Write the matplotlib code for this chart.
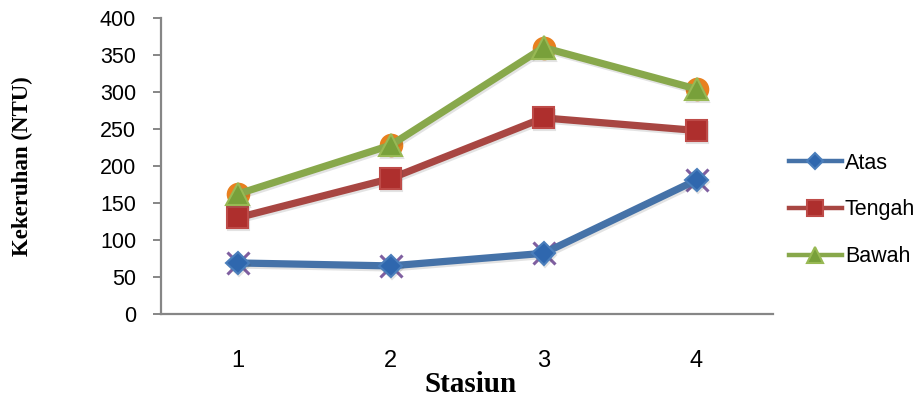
"""
Grafik kekeruhan (NTU) per stasiun untuk tiga kedalaman: atas, tengah, bawah
"""

import numpy as np
import matplotlib
matplotlib.use('Agg')
import matplotlib.pyplot as plt
import matplotlib.patheffects as pe

# --- data ---
stasiun = [1, 2, 3, 4]
atas = [69, 65, 82, 181]
tengah = [130, 183, 265, 248]
bawah = [162, 228, 360, 304]

y_ticks = [0, 50, 100, 150, 200, 250, 300, 350, 400]

# --- gaya ---
WARNA = {
    'Atas':   ('#4572A8', '#2F67AE', '#4A7EBB'),
    'Tengah': ('#A84642', '#AE2F2D', '#BE4B48'),
    'Bawah':  ('#88A84B', '#78A03A', '#98B954'),
}
SANS = ['Liberation Sans', 'DejaVu Sans']
SERIF = ['Liberation Serif', 'DejaVu Serif']

bayangan = [pe.SimpleLineShadow(offset=(1.0, -1.5), alpha=0.15, shadow_color='#444444'),
            pe.Normal()]


def main():
    fig = plt.figure(figsize=(9.22, 4.0), dpi=100)
    ax = fig.add_axes([161 / 922, 1 - 314 / 400, (773 - 161) / 922, (314 - 18) / 400])

    x = np.array(stasiun)

    # seri tersembunyi di bawah garis (penanda saja)
    ax.plot(x, atas, linestyle='none', marker='x', ms=16, mew=2.2,
            color='#7F5FA0', zorder=2)
    ax.plot(x, bawah, linestyle='none', marker='o', ms=17, mew=0,
            color='#E8801F', zorder=2)

    seri = [('Atas', atas, 'D', 11.5), ('Tengah', tengah, 's', 15), ('Bawah', bawah, '^', 16)]
    for nama, nilai, mk, ms in seri:
        garis, muka, tepi = WARNA[nama]
        ax.plot(x, nilai, color=garis, lw=5.2, marker=mk, ms=ms,
                markerfacecolor=muka, markeredgecolor=tepi, mew=1.5,
                label=nama, zorder=3, path_effects=bayangan,
                solid_joinstyle='round')

    ax.set_xlim(0.5, 4.5)
    ax.set_ylim(0, 400)
    ax.set_yticks(y_ticks)
    ax.set_xticks(stasiun)

    for side in ['top', 'right']:
        ax.spines[side].set_visible(False)
    for side in ['left', 'bottom']:
        ax.spines[side].set_color('#868686')
        ax.spines[side].set_linewidth(1.6)

    ax.tick_params(axis='y', direction='out', length=6, width=1.4, color='#868686',
                   pad=12, labelsize=15.5)
    ax.tick_params(axis='x', length=0, pad=26, labelsize=17)
    for lbl in ax.get_yticklabels() + ax.get_xticklabels():
        lbl.set_family(SANS)

    # judul sumbu
    fig.text(22 / 922, 1 - 166 / 400, 'Kekeruhan (NTU)', rotation=90,
             ha='center', va='center', fontsize=16.5, fontweight='bold', family=SERIF)
    fig.text(471 / 922, 1 - 385 / 400, 'Stasiun', ha='center', va='center',
             fontsize=21, fontweight='bold', family=SERIF)

    leg = fig.legend(loc='center left', bbox_to_anchor=(789 / 922, 1 - 210 / 400),
                     frameon=False, handlelength=2.45, handletextpad=0.15,
                     labelspacing=1.2, borderaxespad=0, borderpad=0,
                     prop={'family': SANS, 'size': 15.5})
    for h in leg.legend_handles:
        h.set_markersize(h.get_markersize() * 0.75)
        h.set_linewidth(3.2)
        h.set_path_effects([])

    fig.savefig('out.png', dpi=100)
    plt.close(fig)


if __name__ == '__main__':
    main()
